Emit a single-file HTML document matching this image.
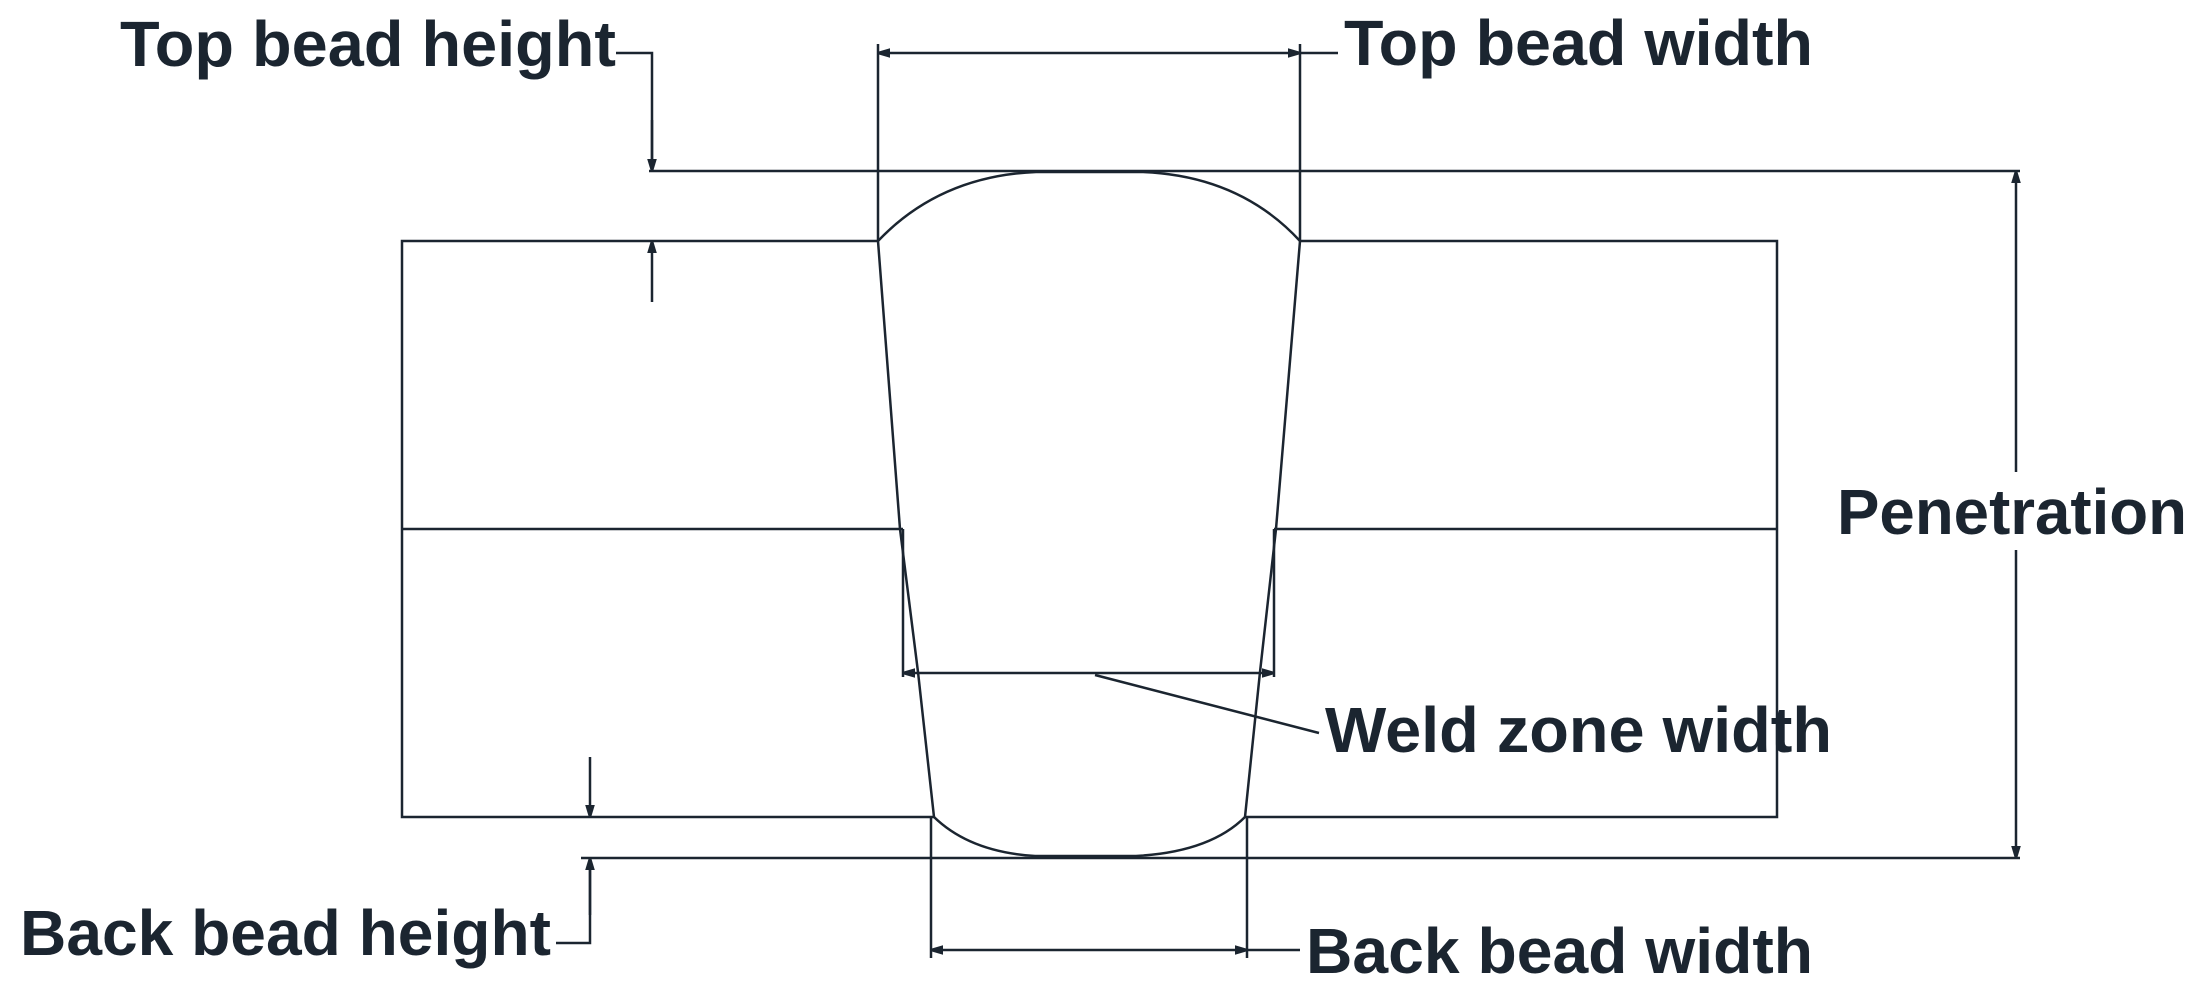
<!DOCTYPE html>
<html><head><meta charset="utf-8"><style>
html,body{margin:0;padding:0;background:#fff;}
svg{display:block;}
text{font-family:"Liberation Sans",sans-serif;font-weight:bold;fill:#1b2530;}
</style></head><body>
<svg width="2204" height="990" viewBox="0 0 2204 990" xmlns="http://www.w3.org/2000/svg">
<defs>
<marker id="a" viewBox="0 0 10 10" refX="10" refY="5" markerWidth="20" markerHeight="12" markerUnits="userSpaceOnUse" orient="auto-start-reverse"><path d="M0,1 L10,4 L10,6 L0,9 z" fill="#1b2530"/></marker>
</defs>
<g stroke="#1b2530" stroke-width="2.5" fill="none">
<polyline points="878,241 402,241 402,817 934,817"/>
<polyline points="1300,241 1777,241 1777,817 1245,817"/>
<line x1="402" y1="529" x2="903" y2="529"/>
<line x1="1274" y1="529" x2="1777" y2="529"/>
<line x1="649" y1="171" x2="2020" y2="171"/>
<line x1="581" y1="858" x2="2020" y2="858"/>
<path d="M878,241 Q940,176 1036,172 L1143,172 Q1240,176 1300,241"/>
<path d="M934,817 Q970,852 1035,856 L1136,856 Q1210,852 1245,817"/>
<polyline points="878,241 900,529 918,672 934,817"/>
<polyline points="1300,241 1276,529 1260,672 1245,817"/>
<line x1="878" y1="44" x2="878" y2="241"/>
<line x1="1300" y1="44" x2="1300" y2="241"/>
<line x1="878" y1="53" x2="1300" y2="53" marker-start="url(#a)" marker-end="url(#a)"/>
<line x1="1300" y1="53" x2="1338" y2="53"/>
<polyline points="616,53 652,53 652,171"/>
<line x1="652" y1="120" x2="652" y2="171" marker-end="url(#a)"/>
<line x1="652" y1="302" x2="652" y2="241" marker-end="url(#a)"/>
<line x1="903" y1="529" x2="903" y2="677"/>
<line x1="1274" y1="529" x2="1274" y2="677"/>
<line x1="903" y1="673" x2="1274" y2="673" marker-start="url(#a)" marker-end="url(#a)"/>
<line x1="1095" y1="675" x2="1319" y2="733"/>
<line x1="931" y1="817" x2="931" y2="958"/>
<line x1="1247" y1="817" x2="1247" y2="958"/>
<line x1="931" y1="950" x2="1247" y2="950" marker-start="url(#a)" marker-end="url(#a)"/>
<line x1="1247" y1="950" x2="1300" y2="950"/>
<line x1="590" y1="757" x2="590" y2="817" marker-end="url(#a)"/>
<polyline points="556,943 590,943 590,858"/>
<line x1="590" y1="915" x2="590" y2="858" marker-end="url(#a)"/>
<line x1="2016" y1="472" x2="2016" y2="171" marker-end="url(#a)"/>
<line x1="2016" y1="550" x2="2016" y2="858" marker-end="url(#a)"/>
</g>
<text x="120" y="66" font-size="64" textLength="496" lengthAdjust="spacingAndGlyphs">Top bead height</text>
<text x="1344" y="65" font-size="64" textLength="469" lengthAdjust="spacingAndGlyphs">Top bead width</text>
<text x="1837" y="534" font-size="64" textLength="350" lengthAdjust="spacingAndGlyphs">Penetration</text>
<text x="1325" y="752" font-size="64" textLength="507" lengthAdjust="spacingAndGlyphs">Weld zone width</text>
<text x="20" y="955" font-size="64" textLength="531" lengthAdjust="spacingAndGlyphs">Back bead height</text>
<text x="1306" y="973" font-size="64" textLength="507" lengthAdjust="spacingAndGlyphs">Back bead width</text>
</svg>
</body></html>
